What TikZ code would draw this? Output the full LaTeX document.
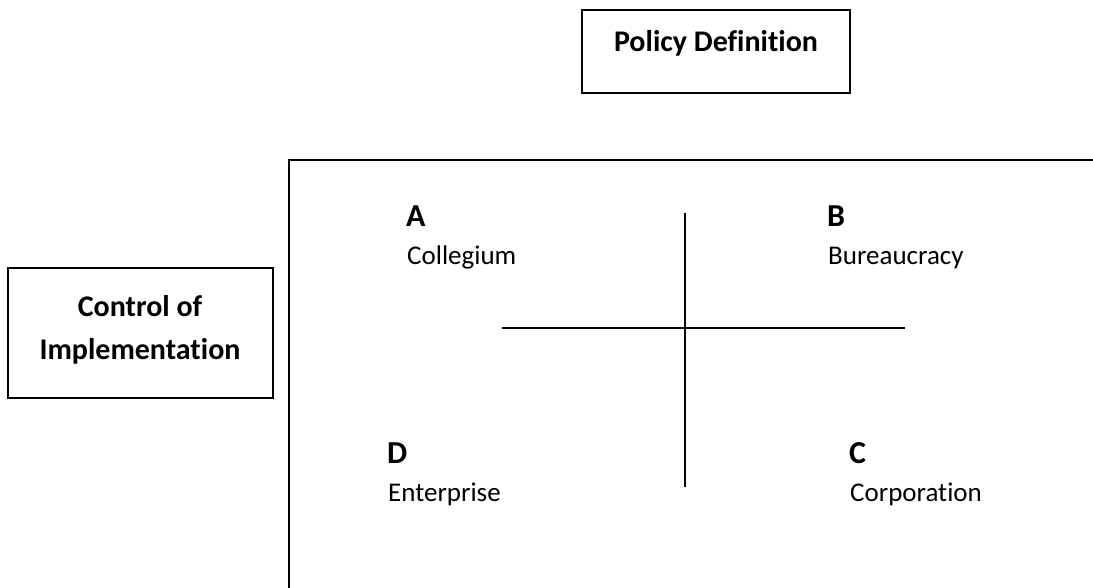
\documentclass[tikz,border=0pt]{standalone}
\usepackage{fontspec}
\setmainfont[Ligatures=NoCommon]{Carlito}
\begin{document}
\begin{tikzpicture}[x=1pt,y=-1pt,
  lbl/.style={font=\fontsize{30}{36}\selectfont\bfseries, align=center, inner sep=0pt, anchor=base},
  qletter/.style={font=\fontsize{32}{38}\selectfont\bfseries, anchor=base west, inner sep=0pt},
  qname/.style={font=\fontsize{27}{32}\selectfont, anchor=base west, inner sep=0pt},
  frameline/.style={line width=1.6pt}]
\useasboundingbox (0,0) rectangle (1093,588);
% boxes
\draw[line width=1.4pt] (582,10) rectangle (850,93);
\node[lbl] (policy) at (716,52) {Policy Definition};
\draw[line width=1.4pt] (8,268) rectangle (273,398);
\node[lbl] (control) at (140,359) {Control of\\[7pt]Implementation};
% frame
\coordinate (ftr) at (1093,160);
\coordinate (ftl) at (289,160);
\coordinate (fbl) at (289,588);
\draw[frameline] (ftr) -- (ftl) -- (fbl);
% cross
\coordinate (vt) at (685,213);
\coordinate (vb) at (685,487);
\coordinate (hl) at (502,328);
\coordinate (hr) at (905,328);
\draw[frameline] (vt) -- (vb);
\draw[frameline] (hl) -- (hr);
% quadrants
\node[qletter] (A) at (406,227) {A};
\node[qname] (Acol) at (407,265) {Collegium};
\node[qletter] (B) at (827,227) {B};
\node[qname] (Bbur) at (828,265) {Bureaucracy};
\node[qletter] (D) at (387,463) {D};
\node[qname] (Dent) at (388,501) {Enterprise};
\node[qletter] (C) at (849,463) {C};
\node[qname] (Ccor) at (850,501) {Corporation};
\end{tikzpicture}
\end{document}
